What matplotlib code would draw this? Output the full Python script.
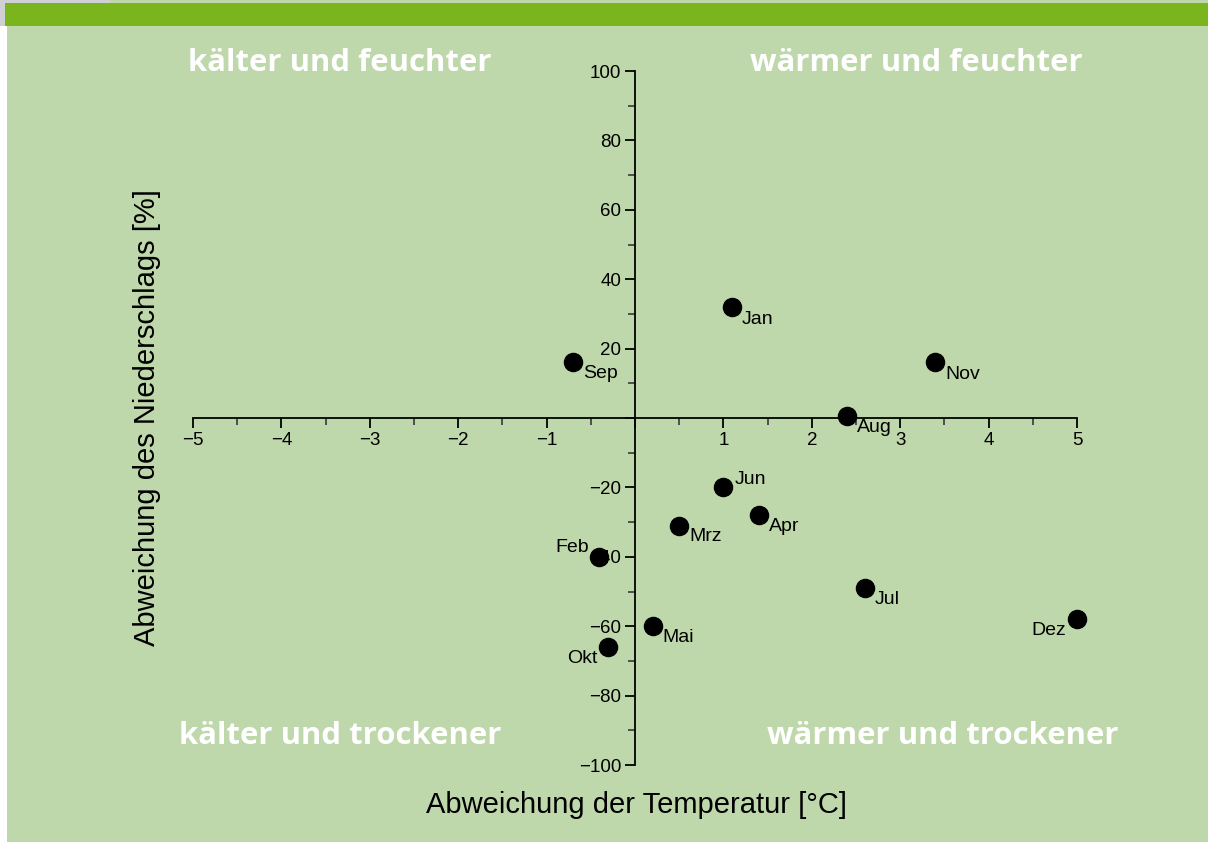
import matplotlib
matplotlib.use("Agg")
import matplotlib.pyplot as plt
import matplotlib.patches as mpatches
from matplotlib.ticker import MultipleLocator, FuncFormatter

# Monthly deviations: temperature [°C] and precipitation [%]
months = ["Jan", "Feb", "Mrz", "Apr", "Mai", "Jun", "Jul", "Aug", "Sep", "Okt", "Nov", "Dez"]
temp_dev = [1.1, -0.41, 0.5, 1.4, 0.2, 1.0, 2.6, 2.4, -0.7, -0.31, 3.39, 5.0]
precip_dev = [32, -40, -31, -28, -60, -20, -49, 0.6, 16, -66, 16, -58]

# label offsets in points (dx, dy, ha)
offsets = {
    "Jan": (7, -9, "left"), "Feb": (-7, 7, "right"), "Mrz": (7, -8, "left"),
    "Apr": (7, -8, "left"), "Mai": (7, -8, "left"), "Jun": (8, 6, "left"),
    "Jul": (7, -8, "left"), "Aug": (7, -8, "left"), "Sep": (7, -8, "left"),
    "Okt": (-7, -8, "right"), "Nov": (8, -9, "left"), "Dez": (-8, -8, "right"),
}

bg = "#bfd8ab"
bar = "#7bb51e"

plt.rcParams["font.family"] = ["Liberation Sans", "DejaVu Sans"]

W, H = 1208, 843
fig = plt.figure(figsize=(W / 100, H / 100), dpi=100)
fig.patch.set_facecolor(bg)


def px_rect(x0, y0, w, h, c):
    # rectangle given in pixel coords from top-left
    fig.patches.append(mpatches.Rectangle((x0 / W, 1 - (y0 + h) / H), w / W, h / H,
                                          transform=fig.transFigure, color=c,
                                          zorder=-10, lw=0))


px_rect(0, 0, 7, H, "white")
px_rect(0, H - 1, W, 1, "white")
px_rect(0, 0, 110, 3, "#d0d0d4")
px_rect(0, 0, 5, 26, "#d0d0d4")
px_rect(5, 3, W - 5, 23, bar)

ax = fig.add_axes([193 / W, 78 / H, 884 / W, 694 / H])
ax.set_facecolor("none")
ax.set_xlim(-5, 5)
ax.set_ylim(-100, 100)

ax.spines["left"].set_position(("data", 0))
ax.spines["bottom"].set_position(("data", 0))
ax.spines["top"].set_visible(False)
ax.spines["right"].set_visible(False)
for s in ("left", "bottom"):
    ax.spines[s].set_linewidth(1.3)

ax.xaxis.set_major_locator(MultipleLocator(1))
ax.xaxis.set_minor_locator(MultipleLocator(0.5))
ax.yaxis.set_major_locator(MultipleLocator(20))
ax.yaxis.set_minor_locator(MultipleLocator(10))


def fmt(v, pos):
    if abs(v) < 1e-9:
        return ""
    return f"{v:.0f}".replace("-", "\u2212")


ax.xaxis.set_major_formatter(FuncFormatter(fmt))
ax.yaxis.set_major_formatter(FuncFormatter(fmt))
ax.tick_params(which="major", direction="out", length=7, width=1.3, labelsize=13.5, pad=3)
ax.tick_params(which="minor", direction="out", length=5, width=1.3, color="#444444")

ax.scatter(temp_dev, precip_dev, s=170, color="black", zorder=5, clip_on=False)
for m, x, y in zip(months, temp_dev, precip_dev):
    dx, dy, ha = offsets[m]
    ax.annotate(m, (x, y), xytext=(dx, dy), textcoords="offset points",
                ha=ha, va="center", fontsize=14, zorder=6)

fig.text(636 / W, 1 - 805 / H, "Abweichung der Temperatur [°C]",
         ha="center", va="center", fontsize=21)
fig.text(147 / W, 1 - 418 / H, "Abweichung des Niederschlags [%]",
         ha="center", va="center", fontsize=21, rotation=90)

corner = dict(color="white", fontsize=22.4, fontweight="bold",
              family=["Open Sans", "DejaVu Sans"], ha="center", va="center")
fig.text(340 / W, 1 - 63 / H, "kälter und feuchter", **corner)
fig.text(916 / W, 1 - 63 / H, "wärmer und feuchter", **corner)
fig.text(340 / W, 1 - 736 / H, "kälter und trockener", **corner)
fig.text(943 / W, 1 - 736 / H, "wärmer und trockener", **corner)

fig.savefig("out.png", dpi=100, facecolor=fig.get_facecolor())
